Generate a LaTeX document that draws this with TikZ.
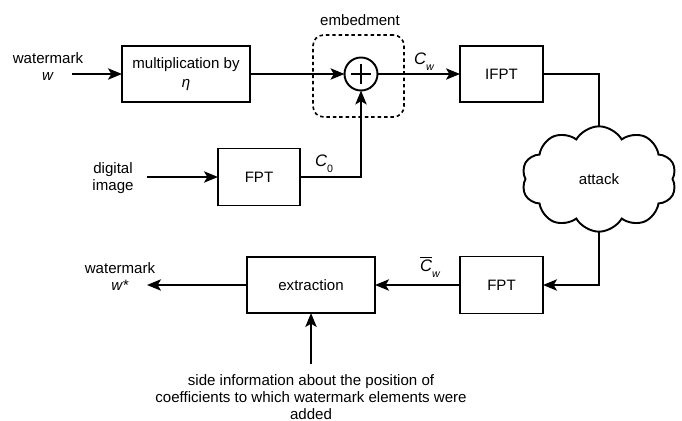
\documentclass[tikz,border=0pt]{standalone}
\usepackage{fontspec}
\setmainfont{Liberation Sans}
\usetikzlibrary{arrows.meta,shapes.symbols}
\begin{document}
\begin{tikzpicture}[x=0.75pt,y=-0.75pt,
  font=\fontsize{11.3}{12.75}\selectfont,
  every node/.style={inner sep=0pt, outer sep=0pt},
  blk/.style={draw, line width=1.45pt, align=center},
  con/.style={line width=1.45pt},
  arr/.style={con, -{Stealth[length=10.5pt,width=8.5pt,inset=2.5pt]}},
  lbl/.style={align=center}]
\useasboundingbox (0,0) rectangle (682,421);
% blocks
\node[blk, minimum width=96pt, minimum height=42pt] (mult) at (186,74) {multiplication by\\[1pt]\textit{η}};
\node[blk, minimum width=61.5pt, minimum height=42.75pt] (fpta) at (259,177) {FPT};
\node[blk, minimum width=62.25pt, minimum height=42pt] (ifpt) at (501.5,74) {IFPT};
\node[blk, minimum width=62.25pt, minimum height=42.75pt] (fptb) at (501.5,285) {FPT};
\node[blk, minimum width=96pt, minimum height=42pt] (extr) at (311,285) {extraction};
\node[draw, circle, line width=1.45pt, minimum size=24.75pt] (plus) at (361,74) {};
\draw[line width=1.45pt] ([xshift=-7.5pt]plus.center) -- ([xshift=7.5pt]plus.center)
  ([yshift=-7.5pt]plus.center) -- ([yshift=7.5pt]plus.center);
\node[draw, dashed, line width=1.2pt, dash pattern=on 2.6pt off 2.2pt, rounded corners=8pt,
  minimum width=68.25pt, minimum height=61.5pt] (emb) at (358.5,76) {};
\node[lbl] (embl) at (360,20) {embedment};
\node[cloud, draw, line width=1.45pt, cloud puffs=10, cloud puff arc=120, cloud ignores aspect,
  minimum width=116pt, minimum height=79pt] (attack) at (599,179) {attack};
% labels
\node[lbl] (win) at (48,66.5) {watermark\\\textit{w}};
\node[lbl] (dimg) at (113,178.5) {digital\\image};
\node[lbl] (wout) at (120,276.5) {watermark\\\textit{w*}};
\node[lbl] (side) at (311,397) {side information about the position of\\coefficients to which watermark elements were\\added};
\node[anchor=base west] (c0) at (315,166) {\fontsize{12.5}{14}\selectfont\textit{C}\raisebox{-0.75ex}{\fontsize{8}{9}\selectfont 0}};
\node[anchor=base west] (cw) at (414,64) {\fontsize{12.5}{14}\selectfont\textit{C}\raisebox{-0.75ex}{\fontsize{8}{9}\selectfont\textit{w}}};
\node[anchor=base west] (cwb) at (420,271) {\fontsize{12.5}{14}\selectfont$\overline{\mbox{\textit{C}}}$\raisebox{-0.75ex}{\fontsize{8}{9}\selectfont\textit{w}}};
% coordinates
\coordinate (inw) at (72,74);
\coordinate (indi) at (147,177);
\coordinate (outw) at (147,285);
\coordinate (sidein) at (311,364);
% connectors
\draw[arr] (inw) -- (mult.west);
\draw[arr] (mult.east) -- (plus.west);
\draw[arr] (indi) -- (fpta.west);
\draw[arr] (fpta.east) -| (plus.south);
\draw[arr] (plus.east) -- (ifpt.west);
\draw[con] (ifpt.east) -| (attack.north);
\draw[arr] (attack.south) |- (fptb.east);
\draw[arr] (fptb.west) -- (extr.east);
\draw[arr] (extr.west) -- (outw);
\draw[arr] (sidein) -- (extr.south);
\end{tikzpicture}
\end{document}
